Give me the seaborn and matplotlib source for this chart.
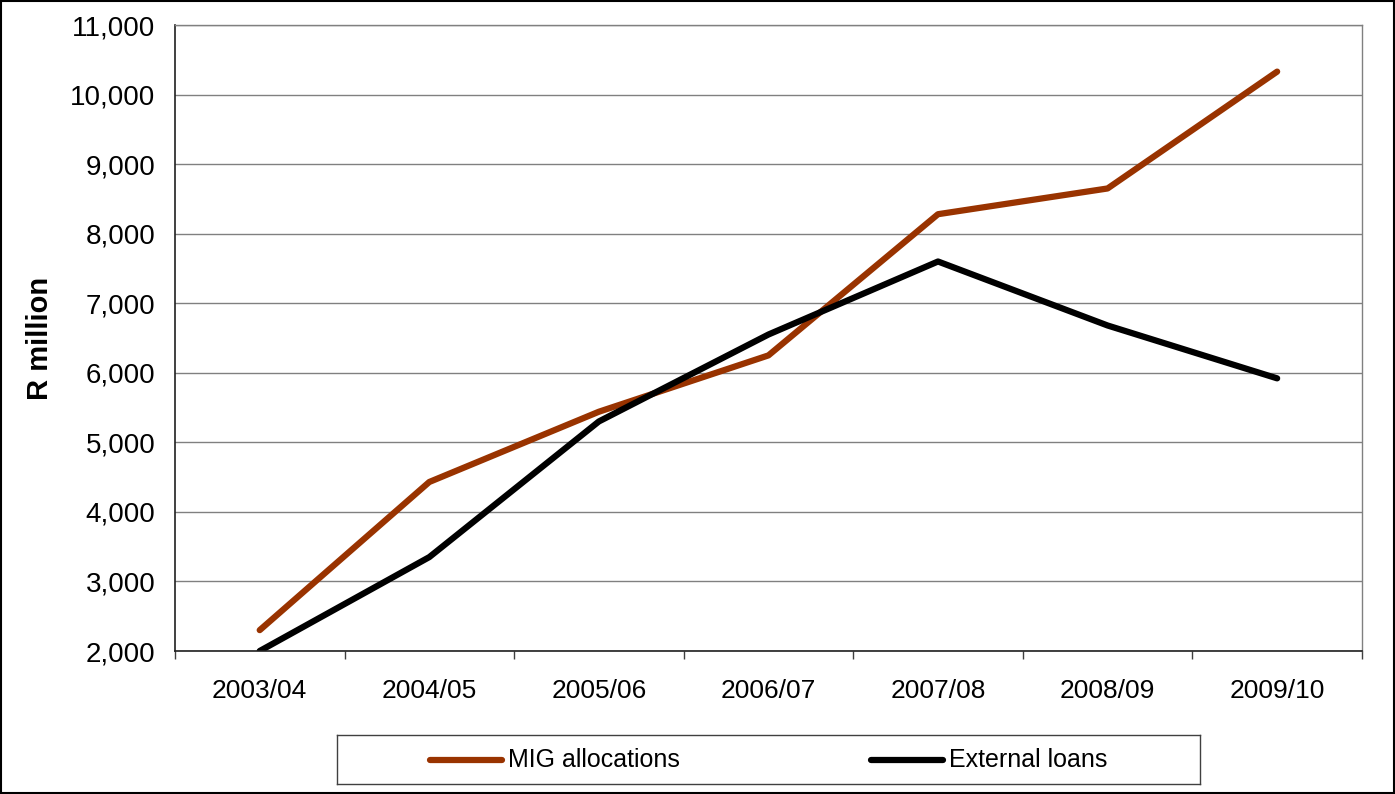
import pandas as pd
import matplotlib.pyplot as plt
import seaborn as sns
import numpy as np
from matplotlib.ticker import FuncFormatter, FixedLocator

# データ
years = ['2003/04', '2004/05', '2005/06', '2006/07', '2007/08', '2008/09', '2009/10']
mig_allocations = [2300, 4430, 5440, 6250, 8280, 8650, 10330]
external_loans = [2000, 3350, 5300, 6550, 7600, 6680, 5920]

sns.set_style('white')
plt.rcParams['font.family'] = ['Liberation Sans', 'DejaVu Sans']
plt.rcParams['text.color'] = 'black'
plt.rcParams['axes.labelcolor'] = 'black'
plt.rcParams['xtick.labelcolor'] = 'black'
plt.rcParams['ytick.labelcolor'] = 'black'

df = pd.DataFrame({
    'pos': list(range(len(years))) * 2,
    'value': mig_allocations + external_loans,
    'series': ['MIG allocations'] * len(years) + ['External loans'] * len(years),
})

fig = plt.figure(figsize=(13.95, 7.94), dpi=100)
ax = fig.add_axes([0.1254, 0.1801, 0.8509, 0.7884])

sns.lineplot(data=df, x='pos', y='value', hue='series',
             palette={'MIG allocations': '#993300', 'External loans': '#000000'},
             linewidth=4.5, ax=ax, legend=False, solid_capstyle='round')

ax.set_xlim(-0.5, len(years) - 0.5)
ax.set_ylim(2000, 11000)
ax.set_yticks(range(2000, 11001, 1000))
ax.yaxis.set_major_formatter(FuncFormatter(lambda v, p: f'{int(v):,}'))
ax.grid(axis='y', color='#808080', linewidth=1.0)
ax.set_axisbelow(True)

# カテゴリ境界に目盛り
ax.set_xticks(range(len(years)))
ax.set_xticklabels(years)
ax.xaxis.set_minor_locator(FixedLocator(np.arange(-0.5, len(years), 1.0)))
ax.tick_params(axis='x', which='major', length=0, pad=20, labelsize=19, labelcolor='black')
ax.tick_params(axis='x', which='minor', length=6, width=1, color='#404040', direction='out')
ax.tick_params(axis='y', length=6, width=1, color='#404040', direction='out', labelsize=20,
               pad=8, labelcolor='black')
ax.tick_params(bottom=True, which='both')
ax.tick_params(axis='x', which='major', bottom=False)

ax.set_xlabel('')
ax.set_ylabel('R million', fontsize=21, fontweight='bold', labelpad=12, color='black')

for side in ['left', 'bottom']:
    ax.spines[side].set_color('#202020')
    ax.spines[side].set_linewidth(1.2)
for side in ['right', 'top']:
    ax.spines[side].set_color('#808080')
    ax.spines[side].set_linewidth(1.0)

# 凡例
leg_ax = fig.add_axes([0.2416, 0.0126, 0.6186, 0.0617])
leg_ax.set_xlim(0, 1)
leg_ax.set_ylim(0, 1)
leg_ax.set_xticks([])
leg_ax.set_yticks([])
for s in leg_ax.spines.values():
    s.set_color('#404040')
    s.set_linewidth(1.0)
leg_ax.plot([0.108, 0.191], [0.5, 0.5], color='#993300', linewidth=4.5, solid_capstyle='round')
leg_ax.text(0.198, 0.5, 'MIG allocations', va='center', ha='left', fontsize=18, color='black')
leg_ax.plot([0.619, 0.702], [0.5, 0.5], color='#000000', linewidth=4.5, solid_capstyle='round')
leg_ax.text(0.709, 0.5, 'External loans', va='center', ha='left', fontsize=18, color='black')

# 外枠
fig.patches.append(plt.Rectangle((0.0007, 0.0013), 0.9986, 0.9974, transform=fig.transFigure,
                                 fill=False, edgecolor='black', linewidth=1.5))

fig.savefig('out.png', dpi=100)
